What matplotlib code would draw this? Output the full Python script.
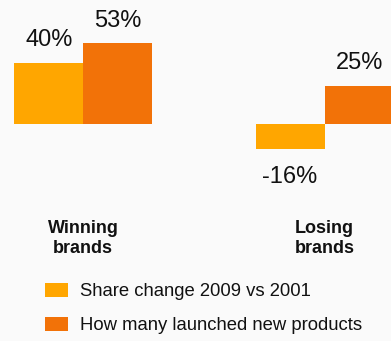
import matplotlib
matplotlib.use("Agg")
from matplotlib import pyplot as plt
import numpy as np

# Data
groups = ["Winning\nbrands", "Losing\nbrands"]
share_change = [40, -16]
launched_new = [53, 25]
series_names = ["Share change 2009 vs 2001", "How many launched new products"]
colors = ["#FFA600", "#F27208"]

plt.rcParams["font.family"] = ["Liberation Sans", "DejaVu Sans"]

fig = plt.figure(figsize=(3.91, 3.41), dpi=100, facecolor="#fafafa")
ax = fig.add_axes([0, 0, 1, 1])
ax.set_facecolor("#fafafa")

x = np.arange(len(groups))
w = 0.286
b1 = ax.bar(x - w / 2, share_change, w, color=colors[0], label=series_names[0])
b2 = ax.bar(x + w / 2, launched_new, w, color=colors[1], label=series_names[1])

ax.set_xlim(-0.345, 1.275)
ax.set_ylim(-141.8, 81.05)
ax.axis("off")

#value labels
for bars, vals in [(b1, share_change), (b2, launched_new)]:
    for bar, v in zip(bars, vals):
        cx = bar.get_x() + bar.get_width() / 2
        if v >= 0:
            ax.annotate(f"{v}%", (cx, v), xytext=(0, 11.8), textcoords="offset points",
                        ha="center", va="baseline", fontsize=17, color="#111111")
        else:
            ax.annotate(f"{v}%", (cx, v), xytext=(0, -25), textcoords="offset points",
                        ha="center", va="baseline", fontsize=17, color="#111111")

#group names
for xi, g in zip(x, groups):
    ax.text(xi, 0.3548, g, transform=ax.get_xaxis_transform(), ha="center", va="top",
            fontsize=13, fontweight="bold", linespacing=1.25, color="#111111")

leg = ax.legend(loc="upper left", bbox_to_anchor=(45 / 391, (341 - 283) / 341),
                bbox_transform=fig.transFigure,
                frameon=False, fontsize=13.3, handlelength=1.24, handleheight=0.8,
                handletextpad=0.66, labelspacing=0.88, borderpad=0, borderaxespad=0)
for t in leg.get_texts():
    t.set_color("#111111")

fig.savefig("out.png", dpi=100, facecolor=fig.get_facecolor())
